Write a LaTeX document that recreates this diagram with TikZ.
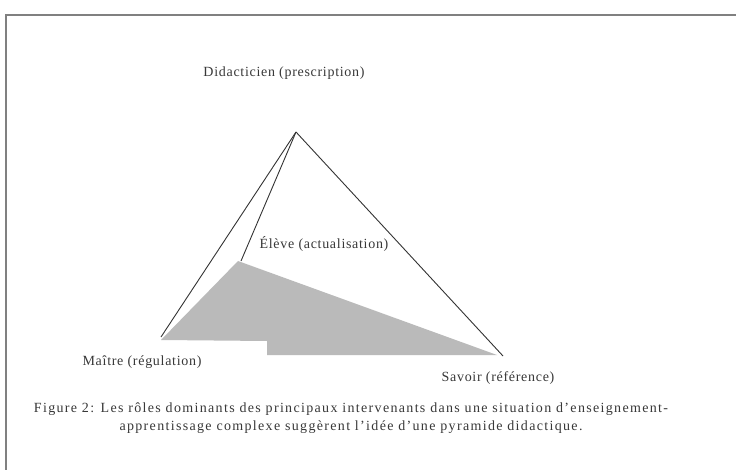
\documentclass[tikz,border=0pt]{standalone}
\usepackage{fontspec}
\setmainfont{Liberation Serif}[LetterSpace=5]
\newfontfamily\capfont{Liberation Serif}[LetterSpace=9.5,Ligatures=TeX]
\begin{document}
\begin{tikzpicture}[x=1pt,y=-1pt,
  lbl/.style={font=\fontsize{14}{18}\selectfont, text=black!78, inner sep=0pt},
  edge/.style={draw=black!80, line width=0.9pt},
  frame/.style={draw=black!50, line width=1.6pt}]
\useasboundingbox (0,0) rectangle (736,470);
\fill[white] (0,0) rectangle (736,470);
% frame (top and left)
\draw[frame] (736,15) -- (6,15) -- (6,470);
% vertices
\coordinate (apex) at (296,132);
\coordinate (maitre) at (161,337);
\coordinate (eleve) at (241,261);
\coordinate (savoir) at (503,356);
% shaded face
\fill[black!27] (238,261) -- (497,355) -- (267,355) -- (267,341) -- (161,340) -- cycle;
% edges
\draw[edge] (apex) -- (maitre);
\draw[edge] (apex) -- (eleve);
\draw[edge] (apex) -- (savoir);
% labels
\node[lbl] (ldid) at (284,73) {Didacticien (prescription)};
\node[lbl] (lelev) at (324,244) {Élève (actualisation)};
\node[lbl] (lmait) at (142,362) {Maître (régulation)};
\node[lbl] (lsav) at (498,378) {Savoir (référence)};
\node[lbl, align=center, font=\capfont\fontsize{14}{18}\selectfont] (cap) at (351,418)
  {Figure 2: Les rôles dominants des principaux intervenants dans une situation d’enseignement-\\
   apprentissage complexe suggèrent l’idée d’une pyramide didactique.};
\end{tikzpicture}
\end{document}
